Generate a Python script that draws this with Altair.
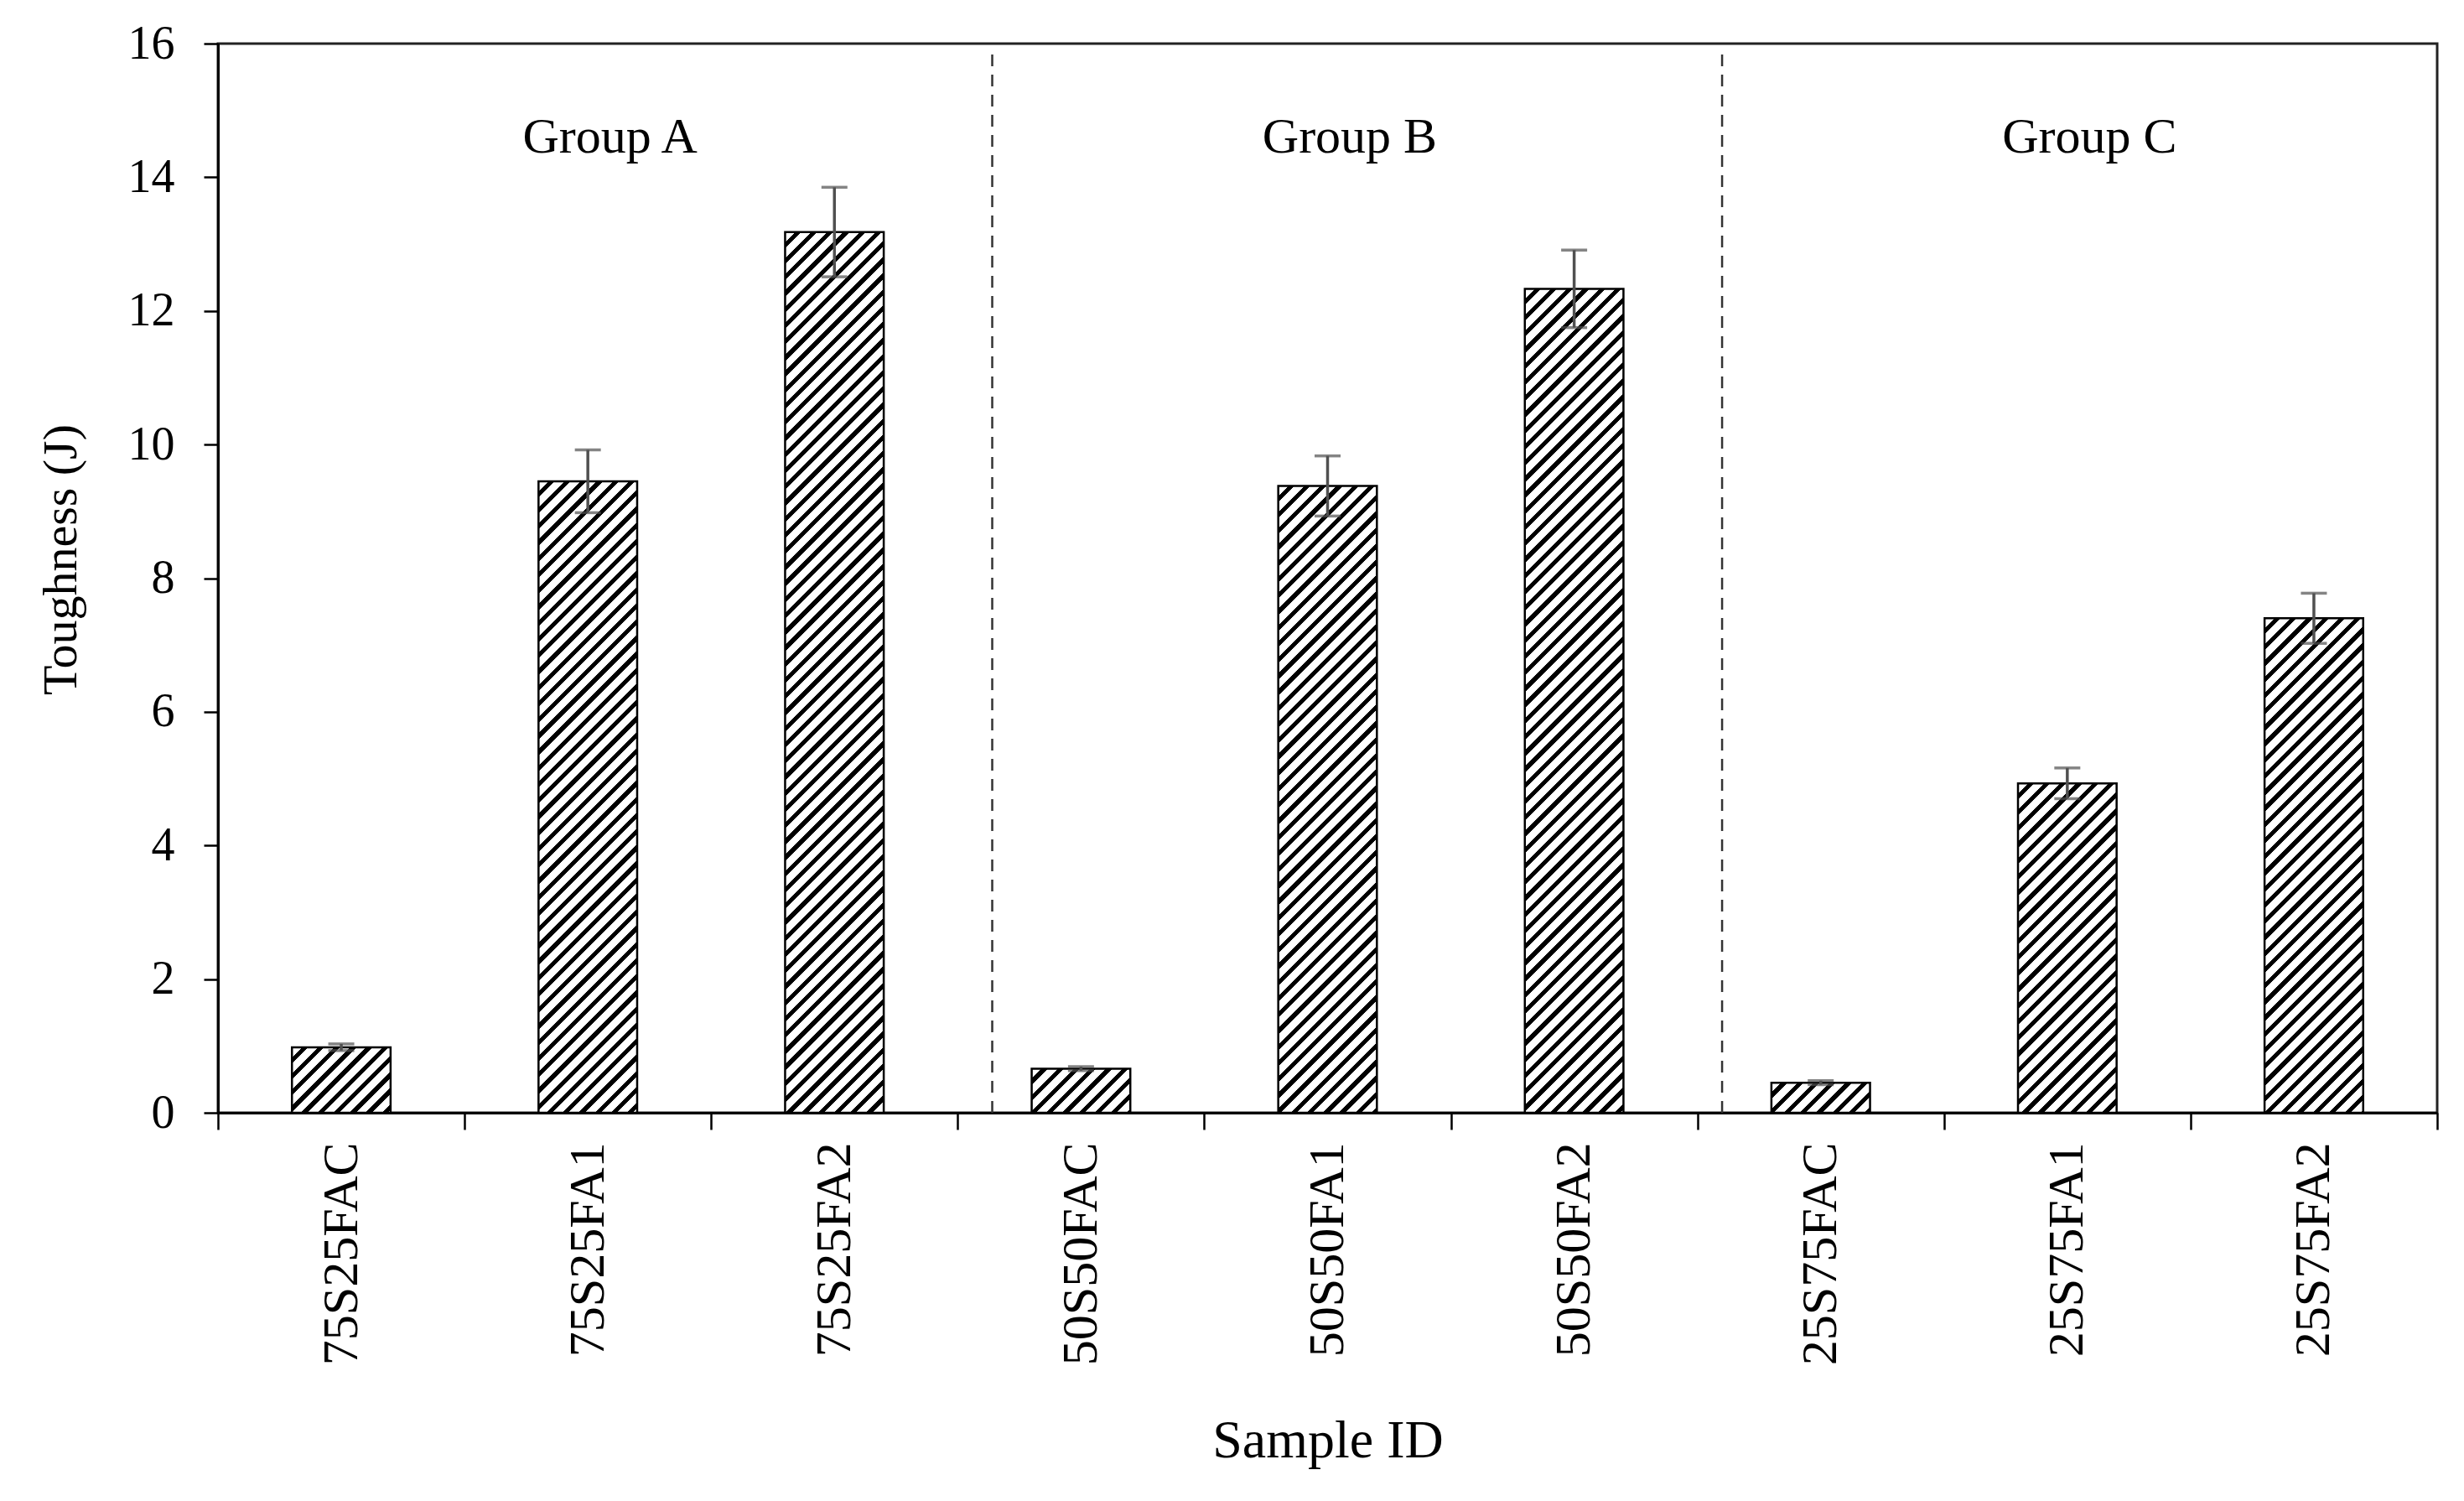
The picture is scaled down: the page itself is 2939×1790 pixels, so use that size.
import math
import altair as alt
import pandas as pd

# ---- data ----
samples = ["75S25FAC", "75S25FA1", "75S25FA2",
           "50S50FAC", "50S50FA1", "50S50FA2",
           "25S75FAC", "25S75FA1", "25S75FA2"]
toughness = [0.98, 9.45, 13.18, 0.66, 9.38, 12.33, 0.45, 4.93, 7.40]
errors = [0.05, 0.47, 0.67, 0.03, 0.45, 0.58, 0.03, 0.23, 0.375]
group_names = ["Group A", "Group B", "Group C"]
group_centers = ["75S25FA1", "50S50FA1", "25S75FA1"]
separators_1 = ["50S50FAC"]
separators_2 = ["25S75FAC"]

df = pd.DataFrame({"sample": samples, "value": toughness, "err": errors})
df["lo"] = df["value"] - df["err"]
df["hi"] = df["value"] + df["err"]
groups_df = pd.DataFrame({"group": group_names, "sample": group_centers})

# ---- layout ----
W_PLOT, H_PLOT = 2647, 1275
Y_MAX = 16
BAND = W_PLOT / len(samples)
BAR_FRAC = 0.4
FONT = "Liberation Serif"

xs = alt.X("sample:N", sort=samples,
           scale=alt.Scale(paddingInner=0, paddingOuter=0),
           axis=alt.Axis(title="Sample ID", labelAngle=-90, tickBand="extent",
                         labelFontSize=60, labelPadding=15, tickSize=20, labelLimit=0,
                         titleFontSize=64, titleY=391, titleBaseline="middle",
                         labelFont=FONT, titleFont=FONT, titleFontWeight="normal",
                         labelColor="black", titleColor="black"))
ys = alt.Y("value:Q", scale=alt.Scale(domain=[0, Y_MAX], nice=False),
           axis=alt.Axis(title="Toughness (J)", values=list(range(0, 17, 2)), format="d",
                         labelFontSize=56, labelPadding=35, tickSize=17,
                         titleFontSize=58, titleX=-187, titleY=615, titleBaseline="middle",
                         labelFont=FONT, titleFont=FONT, titleFontWeight="normal",
                         labelColor="black", titleColor="black", grid=False))


def hatch(value, period=13.6, black=0.38):
    """Diagonal /// hatching as a hard-stop linear gradient in bar bbox units."""
    w = BAND * BAR_FRAC
    h = value * H_PLOT / Y_MAX
    span = (w + h) / math.sqrt(2)
    t = (w + h) / (w * w + h * h)
    per = period / span
    stops = [{"offset": 0, "color": "white"}]
    k = 0
    while True:
        a = k * per + per * (1 - black)
        b = a + per * black
        if a >= 1:
            break
        stops.append({"offset": round(a, 6), "color": "white"})
        stops.append({"offset": round(a, 6), "color": "black"})
        stops.append({"offset": round(min(b, 1), 6), "color": "black"})
        if b < 1:
            stops.append({"offset": round(b, 6), "color": "white"})
        k += 1
    return {"gradient": "linear", "x1": 0, "y1": 0,
            "x2": w * t, "y2": h * t, "stops": stops}


base = alt.Chart(df)
layers = []
for s, v in zip(samples, toughness):
    layers.append(
        base.transform_filter(alt.datum.sample == s)
        .mark_bar(width=alt.RelativeBandSize(BAR_FRAC), fill=hatch(v),
                  stroke="black", strokeWidth=2.5)
        .encode(x=xs, y=ys)
    )

err_rule = base.mark_rule(color="#505050", strokeWidth=3.5).encode(
    x=alt.X("sample:N", sort=samples), y="lo:Q", y2="hi:Q")
cap_hi = base.mark_tick(color="#505050", size=31, thickness=3.5).encode(
    x=alt.X("sample:N", sort=samples), y="hi:Q")
cap_lo = base.mark_tick(color="#505050", size=31, thickness=3.5).encode(
    x=alt.X("sample:N", sort=samples), y="lo:Q")

sep1 = alt.Chart(pd.DataFrame({"sample": separators_1})).mark_rule(
    color="#333333", strokeWidth=2.5, strokeDash=[14, 10]).encode(
    x=alt.X("sample:N", sort=samples, bandPosition=0.14),
    y=alt.datum(0), y2=alt.datum(15.9))
sep2 = alt.Chart(pd.DataFrame({"sample": separators_2})).mark_rule(
    color="#333333", strokeWidth=2.5, strokeDash=[14, 10]).encode(
    x=alt.X("sample:N", sort=samples, bandPosition=0.10),
    y=alt.datum(0), y2=alt.datum(15.9))

group_text = alt.Chart(groups_df).mark_text(
    font=FONT, fontSize=60, color="black", baseline="middle", align="center"
).encode(x=alt.X("sample:N", sort=samples, bandPosition=0.59),
         y=alt.datum(14.6), text="group:N")

chart = alt.layer(*layers, sep1, sep2, err_rule, cap_hi, cap_lo, group_text).properties(
    width=W_PLOT, height=H_PLOT,
    padding={"left": 252, "top": 44, "right": 24, "bottom": 440},
    autosize=alt.AutoSizeParams(type="none"),
    background="white",
).configure_view(stroke="#222222", strokeWidth=3).configure_axis(
    domainColor="black", domainWidth=3, tickColor="black", tickWidth=2.5,
)

chart.save("out.html", embed_options={"renderer": "svg", "actions": False})
